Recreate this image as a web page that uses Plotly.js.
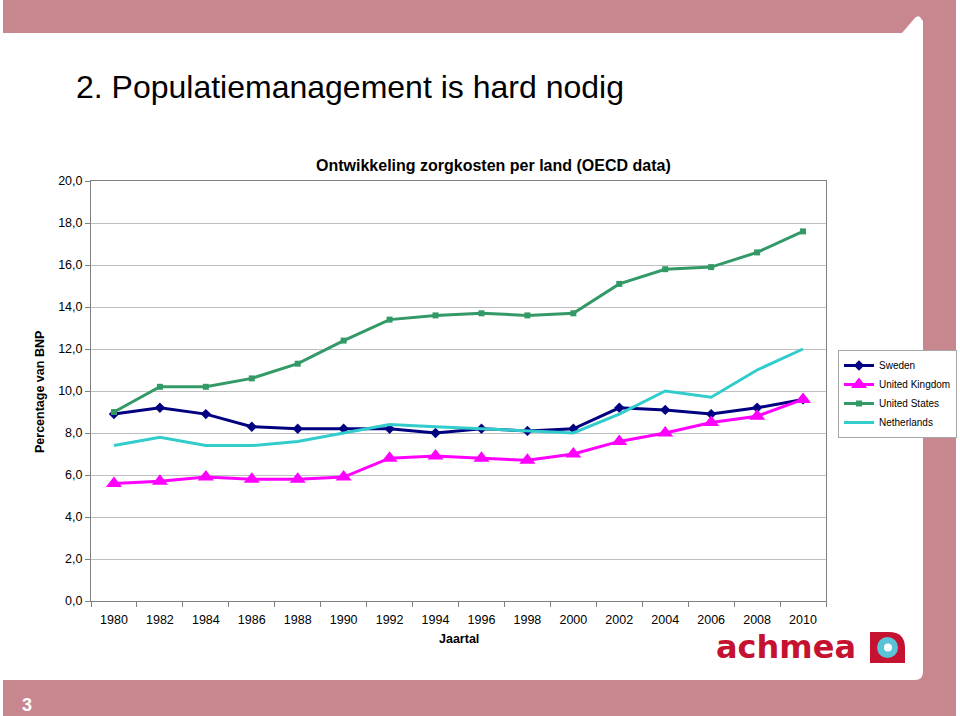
<!DOCTYPE html>
<html>
<head>
<meta charset="utf-8">
<script src="https://cdn.plot.ly/plotly-3.0.1.min.js"></script>
<style>html,body{margin:0;padding:0;background:#fff;}#chart{width:960px;height:716px;}</style>
</head>
<body>
<div id="chart"></div>
<script>
// ---- data ----
var years = ["1980","1982","1984","1986","1988","1990","1992","1994","1996","1998","2000","2002","2004","2006","2008","2010"];
var sweden = [8.9, 9.2, 8.9, 8.3, 8.2, 8.2, 8.2, 8.0, 8.2, 8.1, 8.2, 9.2, 9.1, 8.9, 9.2, 9.6];
var unitedKingdom = [5.6, 5.7, 5.9, 5.8, 5.8, 5.9, 6.8, 6.9, 6.8, 6.7, 7.0, 7.6, 8.0, 8.5, 8.8, 9.6];
var unitedStates = [9.0, 10.2, 10.2, 10.6, 11.3, 12.4, 13.4, 13.6, 13.7, 13.6, 13.7, 15.1, 15.8, 15.9, 16.6, 17.6];
var netherlands = [7.4, 7.8, 7.4, 7.4, 7.6, 8.0, 8.4, 8.3, 8.2, 8.1, 8.0, 8.9, 10.0, 9.7, 11.0, 12.0];
var seriesNames = ["Sweden", "United Kingdom", "United States", "Netherlands"];
var yTickVals = [0, 2, 4, 6, 8, 10, 12, 14, 16, 18, 20];

// ---- helpers (pixel -> paper) ----
var W = 960, H = 716;
function X(p){ return p / W; }
function Y(p){ return 1 - p / H; }
function P(x, y){ return X(x).toFixed(5) + ',' + Y(y).toFixed(5); }

var pink = '#C8878E';
var red = '#C41230';
var fam = 'Liberation Sans, Arial, sans-serif';

var traces = [
  {x: years, y: sweden, name: seriesNames[0], type: 'scatter', mode: 'lines+markers',
   line: {color: '#000080', width: 3}, marker: {symbol: 'diamond', size: 8, color: '#000080'}},
  {x: years, y: unitedKingdom, name: seriesNames[1], type: 'scatter', mode: 'lines+markers',
   line: {color: '#FF00FF', width: 3}, marker: {symbol: 'triangle-up', size: 14, color: '#FF00FF'}},
  {x: years, y: unitedStates, name: seriesNames[2], type: 'scatter', mode: 'lines+markers',
   line: {color: '#339966', width: 3}, marker: {symbol: 'square', size: 6, color: '#339966'}},
  {x: years, y: netherlands, name: seriesNames[3], type: 'scatter', mode: 'lines',
   line: {color: '#33CCCC', width: 3}}
];

var whitePath = 'M ' + P(3,33) + ' L ' + P(902,33) + ' L ' + P(914,19) + ' Q ' + P(917,15) + ' ' + P(920,17) +
  ' L ' + P(923,21) + ' L ' + P(923,672) + ' Q ' + P(923,680) + ' ' + P(915,680) + ' L ' + P(3,680) + ' Z';

var iconRed = 'M ' + P(870,632) + ' L ' + P(889,632) + ' Q ' + P(905,632) + ' ' + P(905,648) +
  ' L ' + P(905,663) + ' L ' + P(889,663) + ' L ' + P(870,663) + ' Z';

var shapes = [
  {type: 'rect', xref: 'paper', yref: 'paper', x0: X(3), x1: X(956), y0: Y(716), y1: Y(0),
   fillcolor: pink, line: {width: 0}, layer: 'below'},
  {type: 'path', xref: 'paper', yref: 'paper', path: whitePath, fillcolor: '#FFFFFF', line: {width: 0}, layer: 'below'},
  // achmea icon
  {type: 'path', xref: 'paper', yref: 'paper', path: iconRed, fillcolor: red, line: {width: 0}, layer: 'above'},
  {type: 'circle', xref: 'paper', yref: 'paper', x0: X(877), x1: X(898), y0: Y(658), y1: Y(637),
   fillcolor: '#5BC3D8', line: {width: 0}, layer: 'above'},
  {type: 'circle', xref: 'paper', yref: 'paper', x0: X(884), x1: X(892), y0: Y(651.5), y1: Y(643.5),
   fillcolor: '#FFFFFF', line: {width: 0}, layer: 'above'}
];

var annotations = [
  {text: '2. Populatiemanagement is hard nodig', xref: 'paper', yref: 'paper', x: X(74), y: Y(87),
   xanchor: 'left', yanchor: 'middle', showarrow: false,
   font: {family: fam, size: 32, color: '#000000'}},
  {text: '<b>Ontwikkeling zorgkosten per land (OECD data)</b>', xref: 'paper', yref: 'paper', x: X(494), y: Y(165),
   xanchor: 'center', yanchor: 'middle', showarrow: false,
   font: {family: fam, size: 16, color: '#000000'}},
  {text: '<b>Percentage van BNP</b>', xref: 'paper', yref: 'paper', x: X(40), y: Y(392),
   xanchor: 'center', yanchor: 'middle', showarrow: false, textangle: -90,
   font: {family: fam, size: 12.5, color: '#000000'}},
  {text: '<b>Jaartal</b>', xref: 'paper', yref: 'paper', x: X(459), y: Y(639),
   xanchor: 'center', yanchor: 'middle', showarrow: false,
   font: {family: fam, size: 12.5, color: '#000000'}},
  {text: '<b>achmea</b>', xref: 'paper', yref: 'paper', x: X(714), y: Y(647),
   xanchor: 'left', yanchor: 'middle', showarrow: false,
   font: {family: 'DejaVu Sans, sans-serif', size: 32, color: red}},
  {text: '<b>3</b>', xref: 'paper', yref: 'paper', x: X(27), y: Y(705),
   xanchor: 'center', yanchor: 'middle', showarrow: false,
   font: {family: fam, size: 18, color: '#FFFFFF'}}
];

var layout = {
  width: W, height: H,
  margin: {l: 0, r: 0, t: 0, b: 0, pad: 0},
  paper_bgcolor: '#FFFFFF',
  plot_bgcolor: '#FFFFFF',
  separators: ',.',
  font: {family: fam, size: 12, color: '#000000'},
  showlegend: true,
  legend: {x: X(838), y: Y(350), xanchor: 'left', yanchor: 'top',
    bgcolor: '#FFFFFF', bordercolor: '#A6A6A6', borderwidth: 1,
    font: {family: fam, size: 10, color: '#000000'},
    traceorder: 'normal', tracegroupgap: 0, itemwidth: 30},
  xaxis: {domain: [X(91), X(826)], type: 'category', range: [-0.5, 15.5],
    showline: true, linecolor: '#808080', linewidth: 1, mirror: true,
    ticks: 'outside', tickson: 'boundaries', ticklen: 5, tickcolor: '#808080',
    showgrid: false, zeroline: false, ticklabelstandoff: 7,
    tickfont: {family: fam, size: 12.5, color: '#000000'}},
  yaxis: {domain: [Y(601), Y(181)], range: [0, 20], tickvals: yTickVals, tickformat: '.1f',
    showline: true, linecolor: '#808080', linewidth: 1, mirror: true,
    ticks: 'outside', ticklen: 5, tickcolor: '#808080',
    showgrid: true, gridcolor: '#BFBFBF', gridwidth: 1, zeroline: false,
    tickfont: {family: fam, size: 12.5, color: '#000000'}},
  shapes: shapes,
  annotations: annotations
};

Plotly.newPlot('chart', traces, layout, {staticPlot: true, displayModeBar: false});
</script>
</body>
</html>
